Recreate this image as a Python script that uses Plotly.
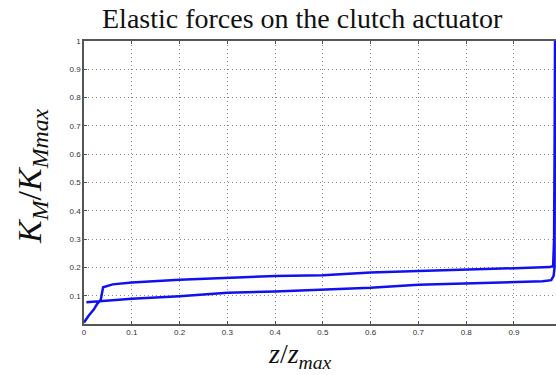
import plotly.graph_objects as go

# Normalised clutch travel z/z_max and elastic force K_M/K_Mmax along the loop
z_vals = [0.000, 0.010, 0.020, 0.028, 0.035, 0.040, 0.060, 0.100, 0.200, 0.300,
          0.400, 0.500, 0.550, 0.600, 0.700, 0.800, 0.900, 0.975, 0.982, 0.984,
          0.985, 0.986, 0.986, 0.985, 0.983, 0.978, 0.960, 0.900, 0.800, 0.700,
          0.600, 0.500, 0.400, 0.300, 0.200, 0.100, 0.050, 0.030, 0.005]
k_vals = [0.005, 0.030, 0.050, 0.072, 0.085, 0.130, 0.140, 0.147, 0.156, 0.163,
          0.170, 0.172, 0.176, 0.182, 0.187, 0.192, 0.197, 0.201, 0.205, 0.300,
          0.600, 1.000, 0.500, 0.200, 0.170, 0.155, 0.151, 0.148, 0.143, 0.139,
          0.128, 0.121, 0.115, 0.110, 0.098, 0.089, 0.083, 0.079, 0.077]

x_ticks = [0, 0.1, 0.2, 0.3, 0.4, 0.5, 0.6, 0.7, 0.8, 0.9]
x_tick_text = ["0", "0.1", "0.2", "0.3", "0.4", "0.5", "0.6", "0.7", "0.8", "0.9"]
y_ticks = [0.1, 0.2, 0.3, 0.4, 0.5, 0.6, 0.7, 0.8, 0.9, 1]
y_tick_text = ["0.1", "0.2", "0.3", "0.4", "0.5", "0.6", "0.7", "0.8", "0.9", "1"]

fig = go.Figure()
fig.add_trace(go.Scatter(
    x=z_vals, y=k_vals, mode="lines",
    line=dict(color="#1010f0", width=2.5),
    showlegend=False, hoverinfo="skip",
))

axis_common = dict(
    showgrid=True, gridcolor="#8a8a8a", griddash="1px,3px", gridwidth=1,
    showline=True, linecolor="#555555", linewidth=1.5,
    ticks="inside", ticklen=3, tickcolor="#555555",
    tickfont=dict(family="Liberation Sans, Arial", size=8, color="#333333"),
    zeroline=False,
)

fig.update_layout(
    width=556, height=375,
    margin=dict(l=84, r=0, t=41, b=51),
    paper_bgcolor="white", plot_bgcolor="white",
    xaxis=dict(range=[0, 0.988], tickvals=x_ticks, ticktext=x_tick_text,
               mirror="ticks", **axis_common),
    yaxis=dict(range=[0, 1], tickvals=y_ticks, ticktext=y_tick_text,
               **axis_common),
)

# Free-standing labels, positioned in page pixels
labels = [
    ("Elastic forces on the clutch actuator", 302, 19, 28, 0, "middle"),
    ("<i>z</i>/<i>z</i><sub><i>max</i></sub>", 300, 375, 28, 0, "bottom"),
    ("<i>K</i><sub><i>M</i></sub>/<i>K</i><sub><i>Mmax</i></sub>", 32, 176, 34, -90, "middle"),
]
for text, px, py, size, angle, anchor in labels:
    fig.add_annotation(
        text=text, showarrow=False, textangle=angle,
        xref="paper", yref="paper", xanchor="center", yanchor=anchor,
        x=(px - 84) / (556 - 84), y=1 - (py - 41) / (375 - 41 - 51),
        font=dict(family="Liberation Serif, serif", size=size, color="#111111"),
    )

fig.write_html("out.html")
